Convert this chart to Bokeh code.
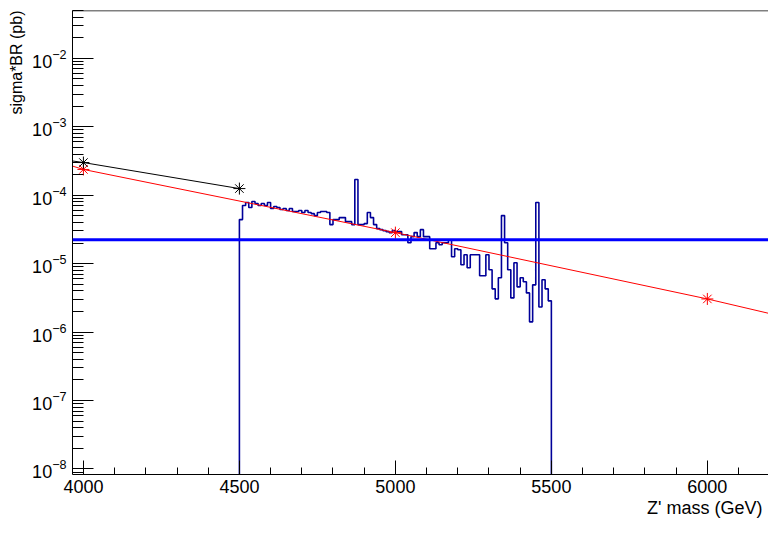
import numpy as np
from bokeh.plotting import figure
from bokeh.models import Range1d, FixedTicker, Span, Title, LogTickFormatter
from bokeh.embed import file_html
from bokeh.resources import INLINE

# red curve (theory)
theory_mass = [3500, 4000, 5000, 6000, 7000]
theory_xsec = [1.2e-3, 2.38e-4, 2.84e-5, 3.05e-6, 2.6e-7]

# black curve
other_mass = [3500, 4000, 4500]
other_xsec = [6.5e-4, 3.0e-4, 1.25e-4]

# flat blue limit line
limit_value = 2.24e-5

# histogram: 100 bins of 10 GeV from 4500 to 5500
hist_lo = 4500
hist_width = 10
hist_values = [
    4.40e-5, 7.06e-5, 7.82e-5, 6.60e-5, 8.08e-5, 7.56e-5, 7.06e-5, 7.56e-5, 7.06e-5, 7.82e-5,
    6.38e-5, 6.83e-5, 6.60e-5, 6.17e-5, 6.38e-5, 5.97e-5, 6.38e-5, 5.77e-5, 5.77e-5, 5.97e-5,
    5.58e-5, 5.97e-5, 5.58e-5, 5.39e-5, 5.04e-5, 5.58e-5, 5.77e-5, 5.77e-5, 5.58e-5, 3.72e-5,
    4.40e-5, 4.40e-5, 4.71e-5, 4.71e-5, 4.11e-5, 4.11e-5, 3.72e-5, 1.70e-4, 3.72e-5, 3.72e-5,
    3.85e-5, 5.58e-5, 4.71e-5, 3.72e-5, 3.25e-5, 3.14e-5, 3.04e-5, 2.94e-5, 2.84e-5, 3.04e-5,
    2.94e-5, 2.94e-5, 2.65e-5, 2.65e-5, 2.02e-5, 2.48e-5, 2.84e-5, 2.48e-5, 3.14e-5, 2.48e-5,
    2.48e-5, 1.65e-5, 1.65e-5, 2.02e-5, 1.89e-5, 2.02e-5, 2.02e-5, 2.24e-5, 1.26e-5, 1.65e-5,
    1.60e-5, 9.63e-6, 1.35e-5, 8.71e-6, 1.35e-5, 1.35e-5, 1.35e-5, 6.65e-6, 6.65e-6, 1.35e-5,
    8.14e-6, 4.28e-6, 3.06e-6, 6.21e-6, 5.04e-5, 2.02e-5, 8.14e-6, 3.16e-6, 1.03e-5, 4.58e-6,
    6.21e-6, 5.43e-6, 3.74e-6, 1.41e-6, 4.90e-6, 7.82e-5, 2.33e-6, 5.81e-6, 4.28e-6, 2.86e-6,
]

x_major = [4000, 4500, 5000, 5500, 6000]
x_minor = list(range(4000, 6300, 100))
y_major = [1e-8, 1e-7, 1e-6, 1e-5, 1e-4, 1e-3, 1e-2]
y_minor = [k * 10.0 ** e for e in range(-9, -1) for k in range(2, 10)]

x_title = "Z' mass (GeV)"
y_title = "sigma*BR (pb)"

FONT = "Liberation Sans"
W, H = 768, 520
ML, MT, MB = 72, 10, 46

p = figure(width=W, height=H, y_axis_type="log",
           x_range=Range1d(3965, 6196), y_range=Range1d(8.3e-9, 0.05),
           output_backend="svg", toolbar_location=None,
           min_border_left=ML, min_border_right=0, min_border_top=MT, min_border_bottom=MB)
p.grid.visible = False
p.outline_line_color = None
p.background_fill_color = "white"
p.border_fill_color = "white"

# axes
p.xaxis.ticker = FixedTicker(ticks=x_major, minor_ticks=x_minor)
p.yaxis.ticker = FixedTicker(ticks=y_major, minor_ticks=y_minor)
p.yaxis.formatter = LogTickFormatter()
for ax in (p.xaxis[0], p.yaxis[0]):
    ax.axis_line_color = "black"
    ax.axis_line_width = 1
    ax.major_tick_line_color = "black"
    ax.minor_tick_line_color = "black"
    ax.major_tick_out = 0
    ax.minor_tick_out = 0
    ax.major_label_text_font = FONT
    ax.major_label_text_font_size = "18px"
    ax.major_label_text_color = "black"
p.xaxis.major_tick_in = 14
p.xaxis.minor_tick_in = 7
p.yaxis.major_tick_in = 21
p.yaxis.minor_tick_in = 11
p.xaxis.major_label_standoff = 5
p.yaxis.major_label_standoff = 6

# top frame border
p.add_layout(Span(location=p.y_range.end, dimension="width", line_color="black", line_width=1.5))

p.add_layout(Title(text=x_title, align="right", standoff=0, offset=6, text_font=FONT,
                   text_font_size="18px", text_font_style="normal", text_color="black"), "below")
p.add_layout(Title(text=y_title, align="right", text_font=FONT, text_font_size="16px",
                   text_font_style="normal", text_color="black"), "left")

# histogram outline (zero content outside drawn to bottom)
vals = np.array(hist_values)
edges = hist_lo + hist_width * np.arange(len(vals) + 1)
floor = 1e-12
hx = np.repeat(edges, 2)
hy = np.concatenate([[floor], np.repeat(vals, 2), [floor]])
p.line(hx, hy, line_color="#000099", line_width=1.6)

# flat limit line
p.add_layout(Span(location=limit_value, dimension="width", line_color="#0000ff", line_width=3))

# red curve
p.line(theory_mass, theory_xsec, line_color="red", line_width=1)
p.scatter(theory_mass, theory_xsec, marker="cross", size=12, line_color="red", line_width=1)
p.scatter(theory_mass, theory_xsec, marker="x", size=12, line_color="red", line_width=1)

# black curve
p.line(other_mass, other_xsec, line_color="black", line_width=1)
p.scatter(other_mass, other_xsec, marker="cross", size=12, line_color="black", line_width=1)
p.scatter(other_mass, other_xsec, marker="x", size=12, line_color="black", line_width=1)

open("out.html", "w").write(file_html(p, INLINE))
